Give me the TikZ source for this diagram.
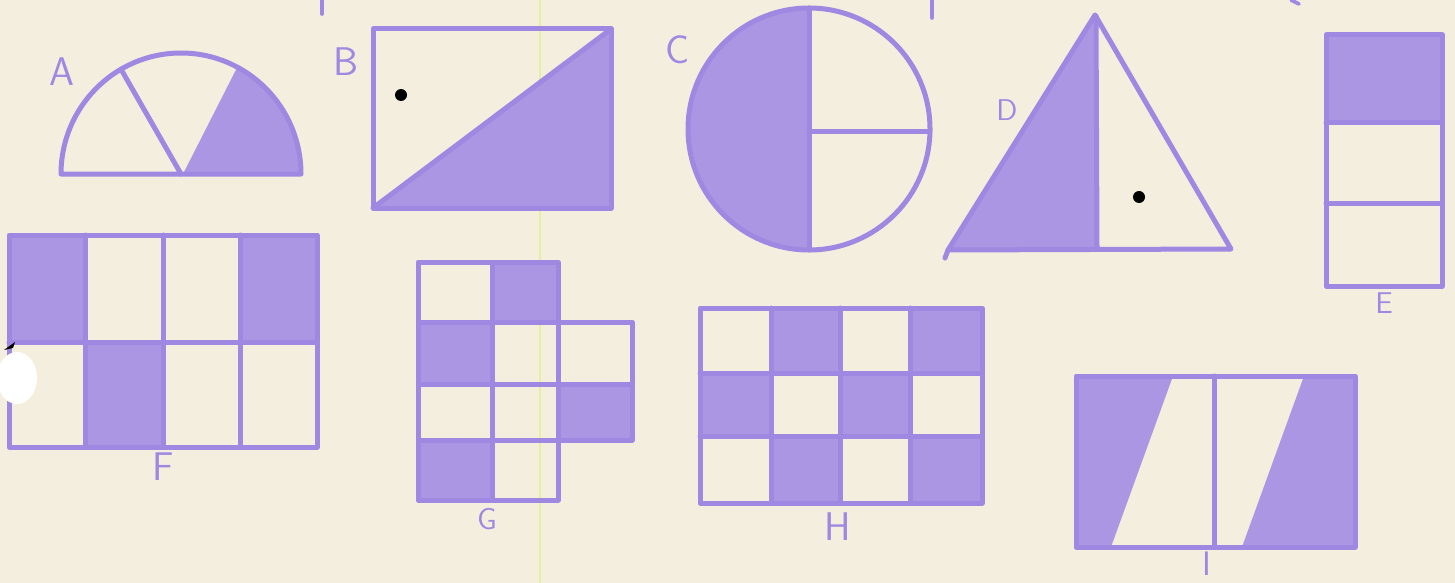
\documentclass[tikz,border=0pt]{standalone}
\definecolor{bg}{HTML}{F3EEDE}
\definecolor{pline}{HTML}{9F88E2}
\definecolor{pfill}{HTML}{AA96E3}
\definecolor{scan}{HTML}{E4F0A0}
\tikzset{
  ln/.style={draw=pline, line width=2.5pt, line join=round, line cap=round},
  sh/.style={fill=pfill},
  lbl/.style={text=pline, inner sep=0pt, font=\sffamily\fontsize{20}{20}\selectfont},
  lbls/.style={text=pline, inner sep=0pt, font=\sffamily\fontsize{15}{15}\selectfont},
  dotb/.style={fill=black}
}
\begin{document}
\begin{tikzpicture}[x=0.5pt,y=-0.5pt]
\fill[bg] (0,0) rectangle (1455,583);
\useasboundingbox (0,0) rectangle (1455,583);
% scanner line
\draw[scan, line width=0.8pt] (540,0) -- (540,583);
% cut-off marks at top
\draw[ln, line width=1.8pt] (322,0) -- (322,14);
\draw[ln, line width=1.8pt] (932,0) -- (932,18);
\draw[ln, line width=1.8pt] (1291,0) -- (1299,4);

% ---- A ----
\fill[sh] (183,174) -- (237.3,67.2) arc[start angle=-62, end angle=0, x radius=120, y radius=121] -- cycle;
\draw[ln] (301,174) arc[start angle=0, end angle=-180, x radius=120, y radius=121] -- cycle;
\draw[ln] (181,174) -- ++(-120:120 and 121);
\node[lbl] (labA) at (62,72) {A};

% ---- B ----
\fill[sh] (373,208) -- (611,29) -- (611,208) -- cycle;
\draw[ln] (373,29) rectangle (611,208);
\draw[ln] (373,208) -- (611,29);
\fill[dotb] (401,95) circle (6);
\node[lbl] (labB) at (346,62) {B};

% ---- C ----
\fill[sh] (809,8) arc[start angle=-90, end angle=-270, radius=121] -- cycle;
\draw[ln] (809,129) circle (121);
\draw[ln] (809,8) -- (809,250);
\draw[ln] (809,131) -- (930,131);
\node[lbl] (labC) at (678,50) {C};

% ---- D ----
\fill[sh] (1095,15) -- (948,250) -- (1097,250) -- cycle;
\draw[ln] (1095,15) -- (948,250) -- (1231,249) -- cycle;
\draw[ln] (948,250) -- (945,258);
\draw[ln] (1096,16) -- (1097,249);
\fill[dotb] (1139,197) circle (6);
\node[lbls] (labD) at (1007,110) {D};

% ---- E ----
\fill[sh] (1326,35) rectangle (1442,123);
\draw[ln] (1326,35) rectangle (1442,286);
\draw[ln] (1326,123) -- (1442,123);
\draw[ln] (1326,203) -- (1442,203);
\node[lbls] (labE) at (1384,303) {E};

% ---- F ----
\fill[sh] (9,235) rectangle (85,342);
\fill[sh] (240,235) rectangle (317,342);
\fill[sh] (85,342) rectangle (163,447);
\draw[ln] (9,235) rectangle (317,447);
\draw[ln] (9,342) -- (317,342);
\draw[ln] (85,235) -- (85,447);
\draw[ln] (163,235) -- (163,447);
\draw[ln] (240,235) -- (240,447);
\node[lbl] (labF) at (163,467) {F};
% punched hole artefact
\fill[white] (17,378) ellipse [x radius=20, y radius=26];
\fill[black] (4,350) -- (15,342) -- (13,348) -- cycle;

% ---- G ----
\fill[sh] (492,262) rectangle (558,322);
\fill[sh] (418,322) rectangle (492,384);
\fill[sh] (558,384) rectangle (632,440);
\fill[sh] (418,440) rectangle (492,500);
\draw[ln] (418,262) rectangle (492,322);
\draw[ln] (492,262) rectangle (558,322);
\draw[ln] (418,322) rectangle (492,384);
\draw[ln] (492,322) rectangle (558,384);
\draw[ln] (558,322) rectangle (632,384);
\draw[ln] (418,384) rectangle (492,440);
\draw[ln] (492,384) rectangle (558,440);
\draw[ln] (558,384) rectangle (632,440);
\draw[ln] (418,440) rectangle (492,500);
\draw[ln] (492,440) rectangle (558,500);
\node[lbls] (labG) at (487,519) {G};

% ---- H ----
\fill[sh] (771,308) rectangle (840,373);
\fill[sh] (910,308) rectangle (982,373);
\fill[sh] (700,373) rectangle (771,436);
\fill[sh] (840,373) rectangle (910,436);
\fill[sh] (771,436) rectangle (840,503);
\fill[sh] (910,436) rectangle (982,503);
\draw[ln] (700,308) rectangle (982,503);
\draw[ln] (700,373) -- (982,373);
\draw[ln] (700,436) -- (982,436);
\draw[ln] (771,308) -- (771,503);
\draw[ln] (840,308) -- (840,503);
\draw[ln] (910,308) -- (910,503);
\node[lbl] (labH) at (838,527) {H};

% ---- I ----
\fill[sh] (1076,376) -- (1173,376) -- (1111,547) -- (1076,547) -- cycle;
\fill[sh] (1304,376) -- (1355,376) -- (1355,547) -- (1242,547) -- cycle;
\draw[ln] (1076,376) rectangle (1355,547);
\draw[ln] (1214,376) -- (1214,547);
\node[text=pline, inner sep=0pt, font=\sffamily\fontsize{17}{17}\selectfont] (labI) at (1207,564) {I};
\end{tikzpicture}
\end{document}
